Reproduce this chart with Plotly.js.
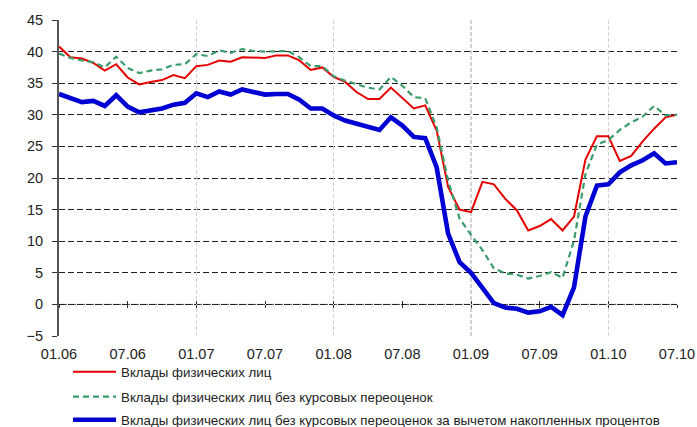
<!DOCTYPE html>
<html>
<head>
<meta charset="utf-8">
<script src="https://cdn.plot.ly/plotly-3.0.1.min.js"></script>
<style>
  html, body { margin: 0; padding: 0; background: #fff; }
  #chart { width: 697px; height: 427px; }
</style>
</head>
<body>
<div id="chart"></div>
<script>
// Tick labels (every 6 months, from 01.06 to 07.10)
const tickLabels = ['01.06','07.06','01.07','07.07','01.08','07.08','01.09','07.09','01.10','07.10'];

// Series names
const nameRed = 'Вклады физических лиц';
const nameGreen = 'Вклады физических лиц без курсовых переоценок';
const nameBlue = 'Вклады физических лиц без курсовых переоценок за вычетом накопленных процентов';

// Monthly values, 01.2006 .. 07.2010 (%)
const red = [40.8, 39.1, 38.9, 38.2, 37.0, 38.0, 35.9, 34.8, 35.2, 35.5, 36.3, 35.8,
             37.7, 37.9, 38.6, 38.4, 39.1, 39.1, 39.0, 39.4, 39.4, 38.6, 37.1, 37.5,
             36.0, 35.2, 33.6, 32.5, 32.5, 34.3, 32.6, 31.0, 31.5, 27.5, 18.6, 15.0,
             14.6, 19.4, 19.0, 16.7, 14.9, 11.7, 12.4, 13.5, 11.7, 13.9, 22.9, 26.6,
             26.6, 22.7, 23.5, 25.8, 27.8, 29.6, 30.0];
const green = [39.7, 39.0, 38.6, 38.3, 37.5, 39.2, 37.4, 36.6, 37.0, 37.2, 37.9, 38.0,
               39.6, 39.3, 40.2, 39.8, 40.4, 40.1, 40.0, 40.1, 40.1, 39.1, 37.7, 37.7,
               36.1, 35.4, 34.8, 34.3, 34.0, 36.0, 34.6, 32.8, 32.6, 28.0, 19.6, 13.6,
               11.0, 8.6, 5.7, 4.9, 4.7, 4.1, 4.5, 5.1, 4.2, 10.1, 20.6, 25.3,
               26.0, 27.6, 28.8, 29.7, 31.4, 29.9, 30.0];
const blue = [33.3, 32.7, 32.0, 32.2, 31.4, 33.1, 31.3, 30.4, 30.7, 31.0, 31.6, 31.9,
              33.4, 32.8, 33.7, 33.2, 34.0, 33.6, 33.2, 33.3, 33.3, 32.4, 31.0, 31.0,
              29.9, 29.1, 28.6, 28.0, 27.6, 29.6, 28.3, 26.5, 26.3, 21.7, 11.2, 6.7,
              5.0, 2.6, 0.2, -0.5, -0.7, -1.3, -1.1, -0.4, -1.7, 2.7, 13.9, 18.8,
              19.0, 20.9, 22.0, 22.8, 23.9, 22.3, 22.5];

const monthIdx = red.map((_, i) => i);
const tickVals = tickLabels.map((_, k) => k * 6);
const yearVals = tickVals.filter(v => v > 0 && v < monthIdx.length - 1 && v % 12 === 0);

const baseFont = 'Liberation Sans, Arial, sans-serif';

const traces = [
  { x: monthIdx, y: red, name: nameRed, type: 'scatter', mode: 'lines',
    line: { color: '#e60000', width: 2 }, legend: 'legend' },
  { x: monthIdx, y: green, name: nameGreen, type: 'scatter', mode: 'lines',
    line: { color: '#3a9b6b', width: 2.2, dash: '6px,4px' }, legend: 'legend2' },
  { x: monthIdx, y: blue, name: nameBlue, type: 'scatter', mode: 'lines',
    line: { color: '#0000d2', width: 4.6 }, legend: 'legend3' },
  { x: [0], y: [null], xaxis: 'x2', showlegend: false, hoverinfo: 'skip', mode: 'lines' },
  { x: [0], y: [null], xaxis: 'x3', showlegend: false, hoverinfo: 'skip', mode: 'lines' },
  { x: [0], y: [null], xaxis: 'x4', showlegend: false, hoverinfo: 'skip', mode: 'lines' }
];

const legendBase = { x: 0.0146, xanchor: 'left', yanchor: 'middle', itemwidth: 43,
  font: { family: baseFont, size: 13.3, color: '#222' }, bgcolor: 'rgba(0,0,0,0)', borderwidth: 0 };

const layout = {
  width: 697, height: 427,
  margin: { l: 59, r: 20, t: 20, b: 91, autoexpand: false },
  paper_bgcolor: '#fff', plot_bgcolor: '#fff',
  font: { family: baseFont, size: 14.5, color: '#222' },
  xaxis: {
    range: [0, monthIdx.length - 1], tickvals: tickVals, ticktext: tickLabels,
    showgrid: false, zeroline: false, showline: false,
    ticks: 'outside', ticklen: 5, tickcolor: 'rgba(0,0,0,0)',
    tickfont: { family: baseFont, size: 14.5, color: '#222' }, fixedrange: true
  },
  xaxis2: {
    overlaying: 'x', matches: 'x', anchor: 'free', position: 0.1,
    tickvals: tickVals, showticklabels: false, ticks: 'outside', ticklen: 3,
    tickcolor: '#333', tickwidth: 1, showgrid: false, zeroline: false, showline: false
  },
  xaxis4: {
    overlaying: 'x', matches: 'x', anchor: 'free', position: 0.1,
    tickvals: tickVals, showticklabels: false, ticks: 'inside', ticklen: 3,
    tickcolor: '#333', tickwidth: 1, showgrid: false, zeroline: false, showline: false
  },
  xaxis3: {
    overlaying: 'x', matches: 'x', anchor: 'y',
    tickvals: yearVals, showticklabels: false, ticks: '',
    showgrid: true, gridcolor: '#d2d2d2', gridwidth: 1.5, griddash: '4px,2px',
    zeroline: false, showline: false
  },
  yaxis: {
    range: [-5, 45], dtick: 5, tick0: 0,
    showgrid: true, gridcolor: '#222', gridwidth: 1, griddash: '6px,3px',
    zeroline: false, showline: true, linecolor: '#555', linewidth: 2,
    ticks: 'outside', ticklen: 5, tickcolor: '#333', ticklabelstandoff: 6,
    tickfont: { family: baseFont, size: 14.5, color: '#222' }, fixedrange: true
  },
  shapes: [
    { type: 'line', xref: 'paper', x0: 0, x1: 1, yref: 'y', y0: 0, y1: 0,
      line: { color: '#444', width: 1, dash: '2px,1px' }, layer: 'between' }
  ],
  legend: Object.assign({}, legendBase, { y: -0.114 }),
  legend2: Object.assign({}, legendBase, { y: -0.193 }),
  legend3: Object.assign({}, legendBase, { y: -0.266 }),
  showlegend: true
};

Plotly.newPlot('chart', traces, layout, { displayModeBar: false, staticPlot: true });
</script>
</body>
</html>
